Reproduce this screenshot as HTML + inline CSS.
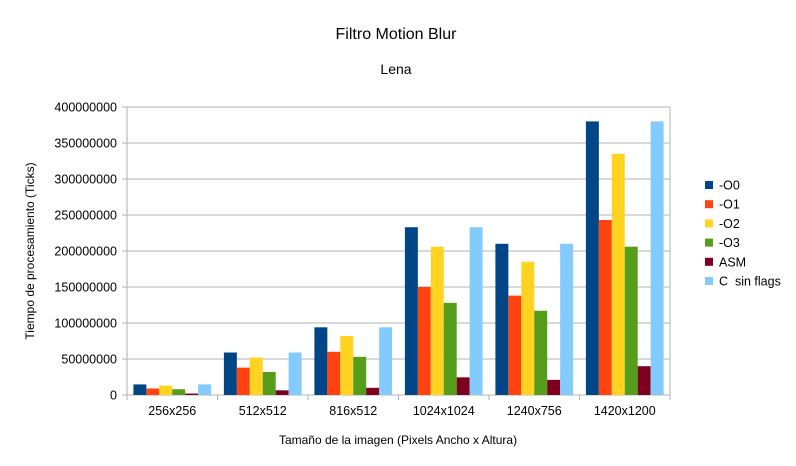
<!DOCTYPE html>
<html><head><meta charset="utf-8"><style>
body{margin:0;background:#fff}
svg{display:block;font-family:"Liberation Sans",sans-serif}
</style></head><body>
<svg id="c" width="796" height="466">
<text x="396" y="39" font-size="16" text-anchor="middle">Filtro Motion Blur</text>
<text x="396" y="74" font-size="14" text-anchor="middle">Lena</text>
<text transform="translate(34,251) rotate(-90)" font-size="12" text-anchor="middle">Tiempo de procesamiento (Ticks)</text>
<text x="398" y="444" font-size="12" text-anchor="middle">Tamaño de la imagen (Pixels Ancho x Altura)</text>
<g id="grid"></g><g id="bars"></g><g id="axes"></g><g id="legend"></g>
</svg>
<script>
const categories=["256x256","512x512","816x512","1024x1024","1240x756","1420x1200"];
const seriesNames=["-O0","-O1","-O2","-O3","ASM","C  sin flags"];
const colors=["#004586","#ff420e","#ffd320","#579d1c","#7e0021","#83caff"];
const O0=[14.7,59,94,233,210,380];
const O1=[9,38,60,150,138,243];
const O2=[13,52,82,206,185,335];
const O3=[8,32,53,128,117,206];
const ASM=[2,6.5,10,24.5,21,40];
const CNF=[14.7,59,94,233,210,380];
const series=[O0,O1,O2,O3,ASM,CNF];
const yTicks=[0,50000000,100000000,150000000,200000000,250000000,300000000,350000000,400000000];
const NS="http://www.w3.org/2000/svg";
const L=127,R=670,T=107,B=395;
const y=v=>B-(v/400000000)*(B-T);
const cw=(R-L)/categories.length;
const x=i=>L+i*cw;
function mk(t,a,p){const e=document.createElementNS(NS,t);for(const k in a)e.setAttribute(k,a[k]);p.appendChild(e);return e;}
const g=document.getElementById('grid'),bg=document.getElementById('bars'),ax=document.getElementById('axes'),lg=document.getElementById('legend');
yTicks.forEach(v=>{
 const l=mk('line',{x1:L-5,x2:R,y1:y(v),y2:y(v),stroke:'#b3b3b3','stroke-width':1},g);
 
 
 const t=mk('text',{x:117,y:y(v)+4.5,'font-size':12.5,'text-anchor':'end'},ax);
 t.textContent=String(v);
 
 
});
mk('line',{x1:L,x2:L,y1:T,y2:B,stroke:'#b3b3b3'},ax);
mk('line',{x1:R,x2:R,y1:T,y2:B,stroke:'#b3b3b3'},ax);
for(let i=0;i<=categories.length;i++){mk('line',{x1:x(i),x2:x(i),y1:B,y2:B+5,stroke:'#b3b3b3'},ax);}
const bw=12.95,off=(cw-6*bw)/2;
categories.forEach((c,i)=>{
 const t=mk('text',{x:x(i)+cw/2,y:415,'font-size':12.5,'text-anchor':'middle'},ax);
 t.textContent=c;
 
 
 series.forEach((s,j)=>{
  const v=s[i]*1e6;
  const r=mk('rect',{x:x(i)+off+j*bw,y:y(v),width:bw,height:B-y(v),fill:colors[j]},bg);
  
  
 });
});
seriesNames.forEach((n,j)=>{
 const yy=185+j*19.2;
 const r=mk('rect',{x:705,y:yy-4,width:8,height:8,fill:colors[j]},lg);
 
 
 const t=mk('text',{x:719,y:yy+4.5,'font-size':12.5},lg);
 t.textContent=n;
 
 
 t.setAttribute('xml:space','preserve');
 t.style.whiteSpace='pre';
});
</script>
</body></html>
